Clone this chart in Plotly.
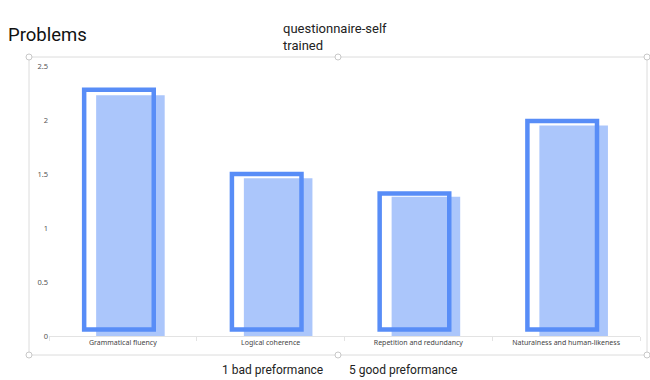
import plotly.graph_objects as go

categories = ["Grammatical fluency", "Logical coherence", "Repetition and redundancy", "Naturalness and human-likeness"]
outline_values = [2.28, 1.50, 1.32, 1.99]
filled_values = [2.23, 1.46, 1.29, 1.95]
y_ticks = [0, 0.5, 1, 1.5, 2, 2.5]
y_tick_labels = ["0", "0.5", "1", "1.5", "2", "2.5"]

W, H = 650, 380
L, R, T, B = 49, 10, 66, 44
pw, ph = W - L - R, H - T - B

def px(x):
    return (x - L) / pw

def py(y):
    return (H - B - y) / ph

outline_base = 0.06
blue = "rgb(88,141,247)"

fig = go.Figure()
fig.add_trace(go.Bar(
    x=categories, y=[v - outline_base for v in outline_values], base=outline_base,
    width=0.471, offset=-0.262,
    marker=dict(color="rgba(255,255,255,0)", line=dict(color=blue, width=4.5)),
    hoverinfo="skip", showlegend=False,
))
fig.add_trace(go.Bar(
    x=categories, y=filled_values,
    width=0.464, offset=-0.181,
    marker=dict(color="rgba(88,141,247,0.5)", line=dict(width=0)),
    showlegend=False,
))

fig.update_layout(
    width=W, height=H,
    margin=dict(l=L, r=R, t=T, b=B),
    barmode="overlay",
    paper_bgcolor="white", plot_bgcolor="white",
    font=dict(family="Noto Sans, sans-serif", color="#555"),
    xaxis=dict(
        range=[-0.5, 3.5], showgrid=False, showline=True, linecolor="#e3e3e3", linewidth=1,
        ticks="outside", tickson="boundaries", ticklen=4, tickcolor="#e3e3e3",
        tickfont=dict(size=7, color="#444"), zeroline=False,
    ),
    yaxis=dict(
        range=[0, 2.5], tickvals=y_ticks, ticktext=y_tick_labels, showgrid=False,
        showline=False, zeroline=False, tickfont=dict(size=7.5, color="#555"), ticklen=0,
        ticks="", automargin=False,
    ),
)

# selection frame around the chart
fx0, fy0, fx1, fy1 = 29, 57, 647, 355
fig.add_shape(type="rect", xref="paper", yref="paper",
              x0=px(fx0), y0=py(fy0), x1=px(fx1), y1=py(fy1),
              line=dict(color="#dcdcdc", width=1), fillcolor="rgba(0,0,0,0)", layer="below")
handles = [(fx0, fy0), ((fx0 + fx1) / 2, fy0), (fx1, fy0),
           (fx0, fy1), ((fx0 + fx1) / 2, fy1), (fx1, fy1)]
for hx, hy in handles:
    fig.add_shape(type="circle", xref="paper", yref="paper",
                  x0=px(hx - 3), x1=px(hx + 3), y0=py(hy + 3), y1=py(hy - 3),
                  line=dict(color="#c8c8c8", width=1), fillcolor="white")

fig.add_annotation(text="Problems", xref="paper", yref="paper", x=px(6), y=py(35),
                   xanchor="left", yanchor="middle", showarrow=False,
                   font=dict(family="Roboto, sans-serif", size=18.5, color="#111"))
fig.add_annotation(text="questionnaire-self<br>trained", xref="paper", yref="paper",
                   x=px(281), y=py(37), xanchor="left", yanchor="middle", align="left",
                   showarrow=False, font=dict(family="Roboto, sans-serif", size=13, color="#222"))
fig.add_annotation(text="1 bad preformance", xref="paper", yref="paper",
                   x=px(220), y=py(370), xanchor="left", yanchor="middle", showarrow=False,
                   font=dict(family="Roboto, sans-serif", size=12, color="#222"))
fig.add_annotation(text="5 good preformance", xref="paper", yref="paper",
                   x=px(347), y=py(370), xanchor="left", yanchor="middle", showarrow=False,
                   font=dict(family="Roboto, sans-serif", size=12, color="#222"))

fig.write_html("out.html", config={"displayModeBar": False},
               post_script="document.body.style.margin='0';document.body.style.overflow='hidden';")
